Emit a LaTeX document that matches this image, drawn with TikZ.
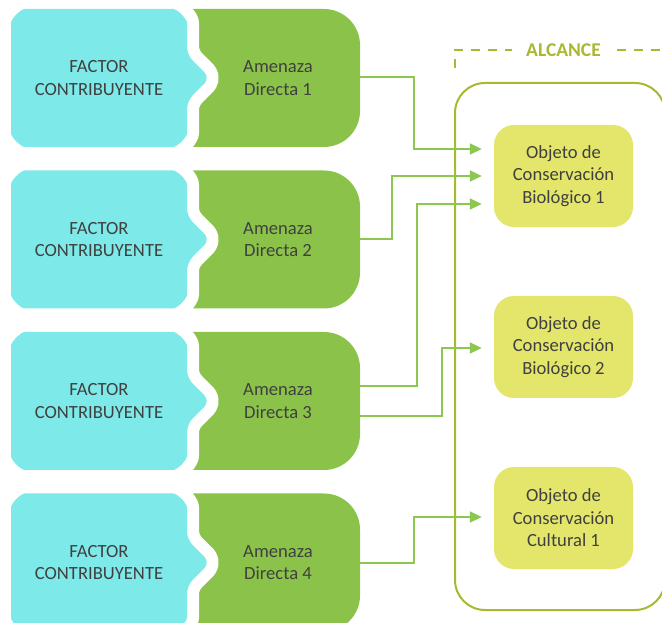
\documentclass[tikz,border=0pt]{standalone}
\usepackage{fontspec}
\setmainfont{Carlito}
\usetikzlibrary{arrows.meta,calc}
\definecolor{cyanbox}{HTML}{7DE9E9}
\definecolor{greenbox}{HTML}{8BC34A}
\definecolor{yellowbox}{HTML}{E3E66B}
\definecolor{olive}{HTML}{AAB830}
\definecolor{txt}{HTML}{404040}
\definecolor{conncol}{HTML}{8CC850}
\begin{document}
\begin{tikzpicture}[x=1pt,y=1pt,
 lbl/.style={text=txt,align=center,font=\fontsize{18.6}{22.5}\selectfont},
 objbox/.style={lbl,fill=yellowbox,rounded corners=20pt,minimum width=139pt,minimum height=102pt,inner sep=0pt},
 connector/.style={draw=conncol,line width=2pt,-{Triangle[length=12pt,width=11pt]}},
 scopeline/.style={draw=olive,line width=2pt},
 dashline/.style={scopeline,dash pattern=on 9pt off 8pt},
]
\useasboundingbox (0,0) rectangle (662,622);
\clip (0,0) rectangle (662,622);
% alcance
\draw[scopeline,rounded corners=30pt] (455,12) rectangle (665,539);
\draw[dashline] (455,554) -- (455,572) -- (512,572);
\draw[dashline] (617,572) -- (670,572);
\node[font=\fontsize{19.5}{22}\selectfont\bfseries,text=olive] (alc) at (563.5,572) {ALCANCE};
% rows
\foreach \i/\c in {1/544,2/382.5,3/221,4/59.5}{
  \fill[greenbox] (183,\c+69) -- (324,\c+69) arc[start angle=90,end angle=0,radius=36pt]
     -- (360,\c-33) arc[start angle=0,end angle=-90,radius=36pt] -- (183,\c-69) -- cycle;
  \path[preaction={draw=white,line width=24pt,line join=round},fill=cyanbox,rounded corners=8pt]
     (11,\c) -- (11,\c+47) arc[start angle=180,end angle=90,radius=22pt]
     -- (165,\c+69) arc[start angle=90,end angle=0,radius=22pt]
     -- (187,\c+23) -- (210,\c) -- (187,\c-23) -- (187,\c-47)
     arc[start angle=0,end angle=-90,radius=22pt]
     -- (33,\c-69) arc[start angle=270,end angle=180,radius=22pt] -- cycle;
  \node[lbl] (f\i) at (99,\c) {FACTOR\\CONTRIBUYENTE};
  \node[lbl] (a\i) at (278,\c) {Amenaza\\Directa \i};
}
\coordinate (a1r) at (360,545);
\coordinate (a2r) at (360,383);
\coordinate (a3u) at (360,236);
\coordinate (a3d) at (360,206);
\coordinate (a4r) at (360,59);
% objects
\node[objbox] (o1) at (563.5,446) {Objeto de\\Conservación\\Biológico 1};
\node[objbox] (o2) at (563.5,275) {Objeto de\\Conservación\\Biológico 2};
\node[objbox] (o3) at (563.5,104) {Objeto de\\Conservación\\Cultural 1};
% connectors
\draw[connector] (a1r) -- ++(54,0) |- ([xshift=-12pt,yshift=27pt]o1.west);
\draw[connector] (a2r) -- ++(32,0) |- ([xshift=-12pt]o1.west);
\draw[connector] (a3u) -- ++(57,0) |- ([xshift=-12pt,yshift=-28pt]o1.west);
\draw[connector] (a3d) -- ++(82,0) |- ([xshift=-12pt,yshift=-1pt]o2.west);
\draw[connector] (a4r) -- ++(54,0) |- ([xshift=-12pt,yshift=1pt]o3.west);
\end{tikzpicture}
\end{document}
